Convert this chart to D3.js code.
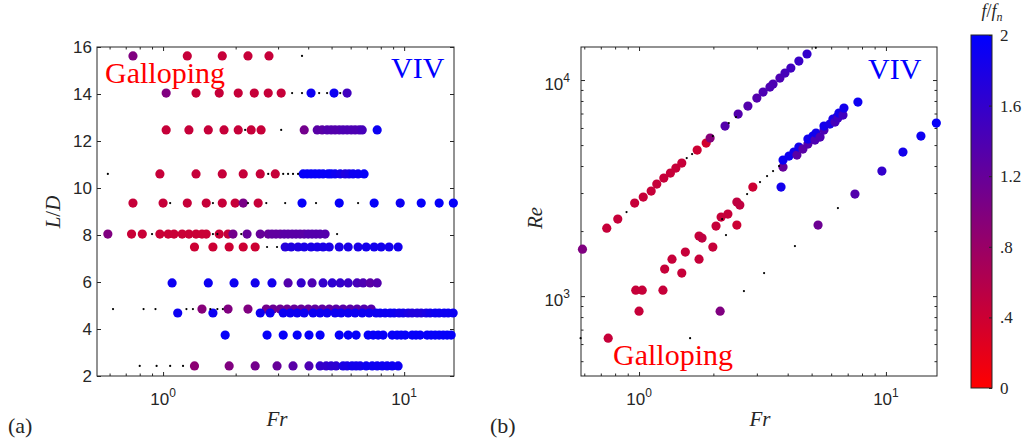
<!DOCTYPE html>
<html>
<head>
<meta charset="utf-8">
<script src="https://cdn.jsdelivr.net/npm/d3@7"></script>
<style>
  body { margin: 0; background: #fff; }
  svg { display: block; }
  .sans { font-family: "Liberation Sans"; }
  .serif { font-family: "Liberation Serif"; }
</style>
</head>
<body>
<div id="chart"></div>
<script>

// ---------- panel (a): L/D rows ----------
const ldLevels = [15.62, 14.04, 12.47, 10.6, 9.36, 8.04, 7.49, 5.96, 4.85, 4.68, 3.74, 2.43];

// Fr of the coloured markers, one list per row
const frRows = [
    [0.75, 1.26, 1.76, 2.25, 2.75],
    [1.03, 1.37, 1.71, 2.05, 2.39, 2.73, 3.09, 4.11, 5.12, 5.80],
    [1.03, 1.28, 1.54, 1.79, 2.05, 2.32, 2.55, 3.85, 4.36, 4.57, 4.79, 4.98, 5.17, 5.38, 5.58, 5.80, 6.03, 6.26, 6.51, 6.70, 7.73],
    [0.97, 1.37, 1.76, 2.15, 2.53, 2.92, 3.81, 3.96, 4.11, 4.27, 4.44, 4.61, 4.84, 4.98, 5.17, 5.43, 5.69, 5.91, 6.14, 6.44, 6.82],
    [0.75, 1.0, 1.26, 1.51, 1.76, 1.99, 2.15, 2.48, 3.77, 5.38, 7.51, 9.63, 11.77, 13.97, 16.0],
    [0.59, 0.74, 0.82, 0.97, 1.05, 1.11, 1.20, 1.28, 1.37, 1.45, 1.51, 1.71, 1.86, 1.95, 2.23, 2.53, 2.73, 2.83, 2.94, 3.06, 3.18, 3.30, 3.43, 3.56, 3.70, 3.85, 4.00, 4.15, 4.31, 4.48, 4.70],
    [1.35, 1.61, 1.88, 2.15, 2.41, 3.21, 3.40, 3.63, 3.85, 4.11, 4.36, 4.61, 4.89, 5.38, 5.86, 6.44, 6.96, 7.51, 8.03, 8.66, 9.44],
    [1.09, 1.54, 1.97, 2.41, 2.83, 3.30, 3.74, 4.15, 4.61, 5.03, 5.43, 5.86, 6.38, 6.76, 7.23, 7.73],
    [1.45, 1.86, 2.25, 2.68, 2.86, 3.06, 3.27, 3.50, 3.74, 4.00, 4.27, 4.57, 4.89, 5.22, 5.58, 5.97, 6.38, 6.82, 7.30],
    [1.15, 1.61, 2.53, 2.78, 3.15, 3.37, 3.60, 3.85, 4.19, 4.48, 4.79, 5.17, 5.48, 5.86, 6.26, 6.70, 7.16, 7.65, 7.95, 8.34, 8.75, 9.09, 9.53, 9.91, 10.39, 10.79, 11.32, 11.77, 12.34, 12.82, 13.45, 13.97, 14.65, 15.23, 15.97],
    [1.81, 2.70, 3.15, 3.60, 4.03, 4.48, 5.38, 5.86, 6.32, 7.09, 7.44, 7.80, 8.18, 8.92, 9.35, 9.72, 10.1, 10.8, 11.2, 11.65, 12.46, 12.94, 13.45, 13.97, 14.52, 15.08, 15.67],
    [1.35, 1.88, 2.41, 2.97, 3.46, 4.03, 4.48, 4.75, 4.98, 5.22, 5.58, 5.80, 6.08, 6.32, 6.57, 6.96, 7.37, 7.73, 8.11, 8.50, 8.92, 9.44],
]

// f/fn of the same markers
const ratioRows = [
    [1.0, 0.45, 0.45, 0.45, 0.45],
    [1.0, 0.45, 0.45, 0.45, 0.45, 0.45, 0.45, 1.9, 1.9, 1.5],
    [0.45, 0.45, 0.45, 0.45, 0.45, 0.45, 0.45, 1.1, 1.3, 1.3, 1.35, 1.35, 1.35, 1.35, 1.4, 1.4, 1.4, 1.4, 1.4, 1.45, 1.9],
    [0.45, 0.45, 0.45, 0.45, 0.45, 0.45, 1.95, 1.95, 1.95, 1.95, 1.95, 1.95, 1.95, 1.95, 1.9, 1.85, 1.75, 1.8, 1.9, 1.9, 1.95],
    [0.45, 0.45, 0.45, 0.45, 0.45, 0.45, 1.05, 0.45, 1.95, 1.95, 1.95, 1.9, 1.95, 1.95, 1.95],
    [1.0, 0.42, 0.42, 0.42, 0.42, 0.42, 0.42, 0.42, 0.42, 0.42, 0.42, 0.42, 0.45, 1.1, 1.2, 1.2, 1.2, 1.25, 1.25, 1.25, 1.3, 1.3, 1.3, 1.3, 1.3, 1.3, 1.35, 1.35, 1.35, 1.35, 1.35],
    [0.4, 0.4, 0.4, 0.4, 0.4, 1.7, 1.75, 1.75, 1.8, 1.8, 1.8, 1.8, 1.8, 1.8, 1.8, 1.8, 1.85, 1.85, 1.85, 1.85, 1.85],
    [1.9, 1.9, 1.9, 1.85, 1.85, 1.35, 1.6, 1.4, 1.6, 1.65, 1.6, 1.55, 1.45, 1.4, 1.3, 1.35],
    [0.95, 1.0, 1.0, 1.1, 1.15, 1.15, 1.15, 1.2, 1.2, 1.2, 1.25, 1.25, 1.25, 1.3, 1.3, 1.3, 1.3, 1.35, 1.35],
    [1.9, 1.9, 1.9, 1.9, 1.9, 1.9, 1.9, 1.9, 1.9, 1.9, 1.9, 1.9, 1.9, 1.9, 1.9, 1.9, 1.9, 1.9, 1.9, 1.9, 1.9, 1.9, 1.85, 1.85, 1.8, 1.75, 1.75, 1.75, 1.8, 1.85, 1.9, 1.9, 1.9, 1.9, 1.9],
    [1.95, 1.95, 1.95, 1.95, 1.95, 1.95, 1.95, 1.95, 1.95, 1.95, 1.95, 1.95, 1.95, 1.95, 1.95, 1.95, 1.95, 1.95, 1.95, 1.95, 1.95, 1.95, 1.95, 1.95, 1.95, 1.95, 1.95],
    [0.9, 1.0, 1.1, 1.2, 1.3, 1.4, 1.6, 1.6, 1.65, 1.65, 1.8, 1.8, 1.85, 1.85, 1.85, 1.9, 1.9, 1.9, 1.9, 1.9, 1.9, 1.9],
]

// Fr of the small black dots (no oscillation), per row
const frNoOscRows = [
    [3.77],
    [3.43, 3.77, 4.44, 4.79, 5.43],
    [2.19, 3.09],
    [0.59, 2.73, 3.15, 3.30, 3.46, 3.63],
    [1.07, 1.61, 2.25, 2.68, 3.21, 4.31, 6.44],
    [0.90, 1.61, 1.68, 2.11, 5.27],
    [2.70, 2.97],
    [],
    [0.62, 0.83, 0.93, 1.25, 1.33, 1.57, 1.68, 1.77],
    [],
    [],
    [0.80, 0.94, 1.07, 1.21],
]

// ---------- panel (b): Re vs Fr ----------
const reFr = [0.74, 0.82, 0.96, 1.04, 1.12, 1.18, 1.26, 1.34, 1.41, 1.49, 1.72, 1.87, 1.94, 2.23, 2.52, 2.76, 3.00, 3.18, 3.39, 3.49, 3.72, 3.90, 4.12, 4.44, 4.79,
    0.59, 0.75, 0.97, 1.03, 1.00, 1.25, 1.27, 1.36, 1.49, 1.54, 1.75, 1.80, 1.75, 1.99, 2.05, 2.15, 2.29, 2.49, 2.49, 2.56, 2.89, 2.13,
    3.76, 3.83, 3.83, 4.05, 4.24, 4.36, 4.44, 4.61, 4.83, 4.83, 5.06, 5.16, 5.21, 5.41, 5.61, 5.61, 5.93, 6.10, 6.22, 6.33, 6.39, 6.45, 6.70, 6.76, 7.70,
    5.31, 7.49, 9.63, 11.72, 13.86, 16.0]
const reRe = [2064, 2272, 2695, 2873, 3063, 3300, 3518, 3710, 3913, 4128, 4742, 5110, 5390, 6124, 6960, 7579, 8254, 8799, 9282, 9583, 10216, 10775, 11365, 12246, 13195,
    1650, 639, 1066, 1066, 852, 1066, 1334, 1483, 1278, 1599, 1896, 1856, 1483, 1686, 2109, 2322, 2397, 2132, 2724, 2638, 3196, 852,
    3196, 3956, 4262, 4448, 4642, 4497, 4896, 4793, 5054, 5333, 5506, 5275, 5684, 5446, 5869, 6124, 6256, 6598, 6392, 6742, 6670, 7035, 6886, 7421, 7911,
    2132, 2967, 3791, 4642, 5506, 6324]
const reRatio = [0.45, 0.45, 0.45, 0.45, 0.45, 0.45, 0.45, 0.45, 0.45, 0.45, 0.4, 0.35, 0.95, 1.35, 1.35, 1.35, 1.35, 1.4, 1.4, 1.4, 1.4, 1.45, 1.5, 1.55, 1.6,
    1.0, 0.45, 0.45, 0.45, 0.45, 0.45, 0.45, 0.45, 0.45, 0.45, 0.45, 0.5, 0.45, 0.45, 0.45, 0.45, 0.45, 0.4, 0.5, 0.5, 0.4, 1.0,
    1.85, 1.2, 1.9, 1.9, 1.85, 1.3, 1.85, 1.3, 1.35, 1.85, 1.9, 1.4, 1.85, 1.4, 1.4, 1.85, 1.8, 1.8, 1.45, 1.8, 1.5, 1.85, 1.5, 1.85, 1.9,
    1.15, 1.35, 1.6, 1.85, 1.9, 1.95]

const reNoOscFr = [0.89, 1.56, 1.64, 1.99, 2.31, 2.47, 2.17, 2.74, 3.09, 3.30, 3.49, 3.69, 2.25, 2.66, 3.21, 4.28, 6.39, 1.61, 0.58, 5.2]
const reNoOscRe = [2448, 4355, 4544, 5506, 6324, 6742, 2272, 2967, 3372, 3594, 3791, 3999, 1916, 1055, 1278, 1704, 2555, 639, 639, 14100]

// colour bar
const cbTicks = [0, 0.4, 0.8, 1.2, 1.6, 2]
const cbTickLabels = ["0", ".4", ".8", "1.2", "1.6", "2"]

// ---------- drawing ----------
const W = 1026, H = 438
const axisColor = "#262626"

const svg = d3.select("#chart").append("svg")
    .attr("width", W)
    .attr("height", H)

const color = d3.scaleLinear().domain([0, 2]).range(["#ff0000", "#0000ff"]).clamp(true)

const decadeMinor = [0.6, 0.7, 0.8, 0.9, 2, 3, 4, 5, 6, 7, 8, 9]

// Ticks pointing inward on all four sides, plus the box
function drawFrame(g, x, y, yTicks, yMinor, left, right, top, bottom) {
    const axes = [
        [d3.axisBottom(x), `translate(0,${bottom})`, [1, 10], decadeMinor],
        [d3.axisTop(x), `translate(0,${top})`, [1, 10], decadeMinor],
        [d3.axisLeft(y), `translate(${left},0)`, yTicks, yMinor],
        [d3.axisRight(y), `translate(${right},0)`, yTicks, yMinor],
    ]
    axes.forEach(([ax, tr, major, minor]) => {
        g.append("g").attr("transform", tr)
            .call(ax.tickValues(major).tickSize(-4).tickSizeOuter(0).tickFormat(""))
        if (minor.length) {
            g.append("g").attr("transform", tr)
                .call(ax.tickValues(minor).tickSize(-2.5).tickSizeOuter(0).tickFormat(""))
        }
    })
    g.selectAll(".domain").remove()
    g.selectAll(".tick line").attr("stroke", axisColor)
    g.append("rect")
        .attr("x", left).attr("y", top)
        .attr("width", right - left).attr("height", bottom - top)
        .attr("fill", "none").attr("stroke", axisColor).attr("stroke-width", 1)
}

// "10^k" style label
function powerLabel(g, xPos, yPos, exp, anchor) {
    const t = g.append("text")
        .attr("class", "sans")
        .attr("x", xPos).attr("y", yPos)
        .attr("text-anchor", anchor)
        .attr("font-size", 17)
        .attr("fill", axisColor)
    t.append("tspan").text("10")
    t.append("tspan").attr("dy", -8).attr("font-size", 12).text(exp)
}

// ---- panel (a) ----
const aL = 97, aR = 454, aT = 47, aB = 376
const xA = d3.scaleLog().domain([0.532, 16.1]).range([aL, aR])
const yA = d3.scaleLinear().domain([2, 16]).range([aB, aT])

const gA = svg.append("g")
drawFrame(gA, xA, yA, d3.range(2, 17, 2), [], aL, aR, aT, aB)

const yLabA = gA.append("g").attr("transform", `translate(${aL},0)`)
    .call(d3.axisLeft(yA).tickValues(d3.range(2, 17, 2)).tickSize(0).tickPadding(5))
yLabA.attr("font-family", null).attr("font-size", null)
yLabA.select(".domain").remove()
yLabA.selectAll("text")
    .attr("class", "sans").attr("font-size", 17).attr("fill", axisColor)

powerLabel(gA, xA(1), 405, "0", "middle")
powerLabel(gA, xA(10), 405, "1", "middle")

const aPoints = []
const aBlack = []
ldLevels.forEach((ld, i) => {
    frRows[i].forEach((fr, j) => aPoints.push({fr: fr, ld: ld, r: ratioRows[i][j]}))
    frNoOscRows[i].forEach(fr => aBlack.push({fr: fr, ld: ld}))
})

gA.append("g").selectAll("circle")
    .data(aPoints)
    .enter()
    .append("circle")
    .attr("cx", d => xA(d.fr))
    .attr("cy", d => yA(d.ld))
    .attr("r", 4.6)
    .attr("fill", d => color(d.r))

gA.append("g").selectAll("circle")
    .data(aBlack)
    .enter()
    .append("circle")
    .attr("cx", d => xA(d.fr))
    .attr("cy", d => yA(d.ld))
    .attr("r", 1.1)
    .attr("fill", "#000")

// ---- panel (b) ----
const bL = 581, bR = 937, bT = 47, bB = 376
const xB = d3.scaleLog().domain([0.582, 16.1]).range([bL, bR])
const yB = d3.scaleLog().domain([427, 14220]).range([bB, bT])

const reMinor = [500, 600, 700, 800, 900, 2000, 3000, 4000, 5000, 6000, 7000, 8000, 9000]
const gB = svg.append("g")
drawFrame(gB, xB, yB, [1000, 10000], reMinor, bL, bR, bT, bB)

powerLabel(gB, xB(1), 405, "0", "middle")
powerLabel(gB, xB(10), 405, "1", "middle")
powerLabel(gB, bL - 11, yB(1000) + 10, "3", "end")
powerLabel(gB, bL - 11, yB(10000) + 10, "4", "end")

gB.append("g").selectAll("circle")
    .data(reFr.map((fr, i) => ({fr: fr, re: reRe[i], r: reRatio[i]})))
    .enter()
    .append("circle")
    .attr("cx", d => xB(d.fr))
    .attr("cy", d => yB(d.re))
    .attr("r", 4.6)
    .attr("fill", d => color(d.r))

gB.append("g").selectAll("circle")
    .data(reNoOscFr.map((fr, i) => ({fr: fr, re: reNoOscRe[i]})))
    .enter()
    .append("circle")
    .attr("cx", d => xB(d.fr))
    .attr("cy", d => yB(d.re))
    .attr("r", 1.1)
    .attr("fill", "#000")

// ---- regime labels ----
function regime(txt, xPos, yPos, fill) {
    svg.append("text")
        .attr("class", "serif")
        .attr("x", xPos).attr("y", yPos)
        .attr("font-size", 30)
        .attr("fill", fill)
        .text(txt)
}
regime("Galloping", 105, 83, "#ff0000")
regime("VIV", 391, 78, "#0000ff")
regime("VIV", 868, 79, "#0000ff")
regime("Galloping", 613, 365, "#ff0000")

// ---- axis titles ----
function mathText(xPos, yPos, parts, rotate) {
    const t = svg.append("text")
        .attr("class", "serif")
        .attr("font-size", 21)
        .attr("fill", axisColor)
        .attr("text-anchor", "middle")
    if (rotate) t.attr("transform", `translate(${xPos},${yPos}) rotate(-90)`)
    else t.attr("x", xPos).attr("y", yPos)
    parts.forEach(p => t.append("tspan").attr("font-style", p[1] ? "italic" : "normal").text(p[0]))
}
mathText(60, 212, [["L", 1], ["/", 0], ["D", 1]], true)
mathText(277, 426, [["Fr", 1]], false)
mathText(760, 426, [["Fr", 1]], false)
mathText(542, 218, [["Re", 1]], true)

svg.append("text").attr("class", "serif").attr("x", 8).attr("y", 433)
    .attr("font-size", 22).attr("fill", axisColor).text("(a)")
svg.append("text").attr("class", "serif").attr("x", 490).attr("y", 433)
    .attr("font-size", 22).attr("fill", axisColor).text("(b)")

// ---- colour bar ----
const cbL = 971, cbW = 21, cbT = 35, cbB = 388
const yC = d3.scaleLinear().domain([0, 2]).range([cbB, cbT])

const grad = svg.append("defs").append("linearGradient")
    .attr("id", "cbGrad")
    .attr("x1", 0).attr("y1", 1).attr("x2", 0).attr("y2", 0)
grad.append("stop").attr("offset", "0%").attr("stop-color", color(0))
grad.append("stop").attr("offset", "100%").attr("stop-color", color(2))

svg.append("rect")
    .attr("x", cbL).attr("y", cbT)
    .attr("width", cbW).attr("height", cbB - cbT)
    .attr("fill", "url(#cbGrad)")
    .attr("stroke", axisColor).attr("stroke-width", 1)

const cbAxis = svg.append("g").attr("transform", `translate(${cbL + cbW},0)`)
    .call(d3.axisRight(yC).tickValues(cbTicks).tickSize(-3).tickPadding(8)
        .tickFormat((d, i) => cbTickLabels[i]))
cbAxis.attr("font-family", null).attr("font-size", null)
cbAxis.select(".domain").remove()
cbAxis.selectAll(".tick line").attr("stroke", axisColor)
cbAxis.selectAll("text")
    .attr("class", "serif").attr("font-size", 17).attr("fill", axisColor)

const cbTitle = svg.append("text")
    .attr("class", "serif")
    .attr("x", 992).attr("y", 17)
    .attr("text-anchor", "middle")
    .attr("font-size", 18).attr("fill", axisColor)
cbTitle.append("tspan").attr("font-style", "italic").text("f")
cbTitle.append("tspan").text("/")
cbTitle.append("tspan").attr("font-style", "italic").text("f")
cbTitle.append("tspan").attr("font-style", "italic").attr("font-size", 12).attr("dy", 4).text("n")

</script>
</body>
</html>
